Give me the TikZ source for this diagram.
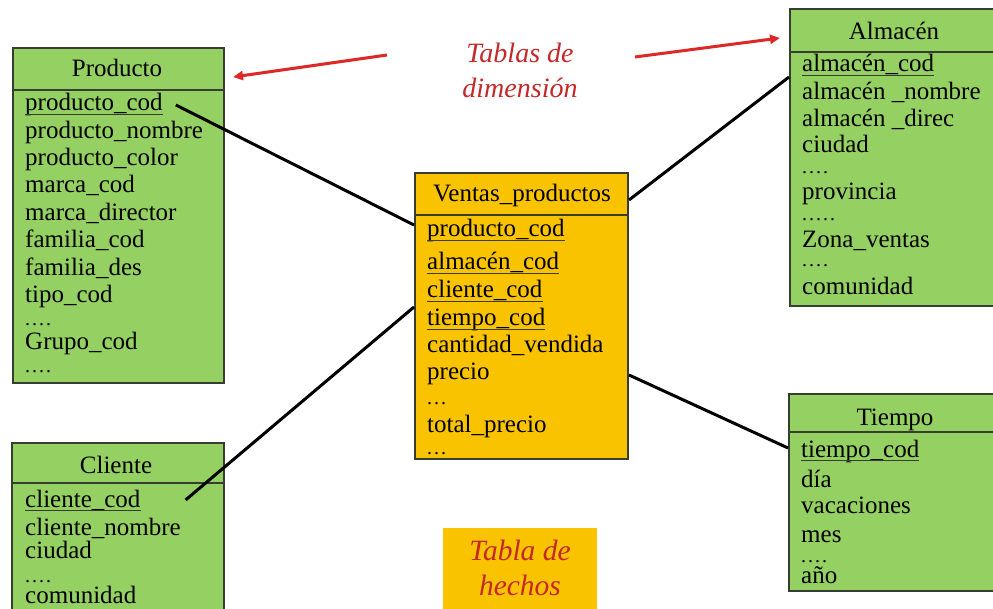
\documentclass[tikz,border=0pt]{standalone}
\usepackage{fontspec}
\setmainfont{Liberation Serif}
\usetikzlibrary{arrows.meta}
\definecolor{dimgreen}{RGB}{148,208,98}
\definecolor{facty}{RGB}{250,195,0}
\definecolor{edgecol}{RGB}{55,62,48}
\definecolor{redtxt}{RGB}{196,40,40}
\definecolor{redarr}{RGB}{222,40,40}
\newcommand{\fourdots}{.\kern2pt.\kern2pt.\kern2pt.}
\newcommand{\fivedots}{.\kern2pt.\kern2pt.\kern2pt.\kern2pt.}
\newcommand{\threedots}{.\kern2pt.\kern2pt.}
\begin{document}
\begin{tikzpicture}[x=1pt,y=-1pt,
  box/.style={draw=edgecol, line width=2pt, anchor=north west, inner sep=0pt},
  dimbox/.style={box, fill=dimgreen},
  factbox/.style={box, fill=facty},
  hdr/.style={draw=edgecol, line width=2pt},
  fld/.style={anchor=base west, inner sep=0pt, font=\fontsize{25}{27}\selectfont},
  dotfld/.style={anchor=base west, inner sep=0pt, font=\fontsize{20}{22}\selectfont},
  ttl/.style={anchor=base, inner sep=0pt, font=\fontsize{25}{27}\selectfont},
  ul/.style={draw=edgecol, line width=1.2pt},
  conn/.style={line width=3pt, black},
  redarrow/.style={line width=3pt, redarr, -{Triangle[length=10pt,width=9pt]}},
  note/.style={anchor=base, inner sep=0pt, text=redtxt, font=\fontsize{28}{34}\selectfont\itshape}
]
\useasboundingbox (0,0) rectangle (993,609);
\clip (0,0) rectangle (993,609);
\fill[white] (0,0) rectangle (993,609);

% ---------- Producto ----------
\node[dimbox, minimum width=211pt, minimum height=335pt] (producto) at (12,47) {};
\draw[hdr] ([yshift=-43pt]producto.north west) -- ([yshift=-43pt]producto.north east);
\node[ttl] (tprod) at (117,77) {Producto};
\node[fld] (pk1) at (25,111) {producto\_cod};
\node[fld] (p2) at (25,138.5) {producto\_nombre};
\node[fld] (p3) at (25,166) {producto\_color};
\node[fld] (p4) at (25,193) {marca\_cod};
\node[fld] (p5) at (25,220.5) {marca\_director};
\node[fld] (p6) at (25,248) {familia\_cod};
\node[fld] (p7) at (25,275.5) {familia\_des};
\node[fld] (p8) at (25,303) {tipo\_cod};
\node[dotfld] (p9) at (25,326) {\fourdots};
\node[fld] (p10) at (25,350) {Grupo\_cod};
\node[dotfld] (p11) at (25,373) {\fourdots};
\draw[ul] ([yshift=-3.5pt]pk1.base west) -- ([yshift=-3.5pt]pk1.base east);

% ---------- Almacen ----------
\node[dimbox, minimum width=216pt, minimum height=297pt] (almacen) at (789,8) {};
\draw[hdr] ([yshift=-44pt]almacen.north west) -- ([yshift=-44pt]almacen.north east);
\node[ttl] (talm) at (894,40) {Almacén};
\node[fld] (ak) at (802,72) {almacén\_cod};
\node[fld] (a2) at (802,100) {almacén \_nombre};
\node[fld] (a3) at (802,127) {almacén \_direc};
\node[fld] (a4) at (802,153) {ciudad};
\node[dotfld] (a5) at (802,174) {\fourdots};
\node[fld] (a6) at (802,200) {provincia};
\node[dotfld] (a7) at (802,221) {\fivedots};
\node[fld] (a8) at (802,248) {Zona\_ventas};
\node[dotfld] (a9) at (802,267) {\fourdots};
\node[fld] (a10) at (802,295) {comunidad};
\draw[ul] ([yshift=-3.5pt]ak.base west) -- ([yshift=-3.5pt]ak.base east);

% ---------- Ventas_productos ----------
\node[factbox, minimum width=213pt, minimum height=286pt] (ventas) at (414,172) {};
\draw[hdr] ([yshift=-43pt]ventas.north west) -- ([yshift=-43pt]ventas.north east);
\node[ttl] (tven) at (522,202) {Ventas\_productos};
\node[fld] (vk1) at (427,237) {producto\_cod};
\node[fld] (vk2) at (427,270) {almacén\_cod};
\node[fld] (vk3) at (427,298) {cliente\_cod};
\node[fld] (vk4) at (427,326) {tiempo\_cod};
\node[fld] (v5) at (427,353) {cantidad\_vendida};
\node[fld] (v6) at (427,380) {precio};
\node[dotfld] (v7) at (427,404) {\threedots};
\node[fld] (v8) at (427,432) {total\_precio};
\node[dotfld] (v9) at (427,454) {\threedots};
\foreach \k in {vk1,vk2,vk3,vk4}
  \draw[ul] ([yshift=-3.5pt]\k.base west) -- ([yshift=-3.5pt]\k.base east);

% ---------- Cliente ----------
\node[dimbox, minimum width=212pt, minimum height=190pt] (cliente) at (11,442) {};
\draw[hdr] ([yshift=-41pt]cliente.north west) -- ([yshift=-41pt]cliente.north east);
\node[ttl] (tcli) at (116,473) {Cliente};
\node[fld] (ck) at (25,507) {cliente\_cod};
\node[fld] (c2) at (25,535) {cliente\_nombre};
\node[fld] (c3) at (25,558) {ciudad};
\node[dotfld] (c4) at (25,582) {\fourdots};
\node[fld] (c5) at (25,603) {comunidad};
\draw[ul] ([yshift=-3.5pt]ck.base west) -- ([yshift=-3.5pt]ck.base east);

% ---------- Tiempo ----------
\node[dimbox, minimum width=217pt, minimum height=197pt] (tiempo) at (788,393) {};
\draw[hdr] ([yshift=-39pt]tiempo.north west) -- ([yshift=-39pt]tiempo.north east);
\node[ttl] (ttie) at (895,425) {Tiempo};
\node[fld] (tk) at (801,457) {tiempo\_cod};
\node[fld] (t2) at (801,487) {día};
\node[fld] (t3) at (801,513) {vacaciones};
\node[fld] (t4) at (801,542) {mes};
\node[dotfld] (t5) at (801,562) {\fourdots};
\node[fld] (t6) at (801,583) {año};
\draw[ul] ([yshift=-3.5pt]tk.base west) -- ([yshift=-3.5pt]tk.base east);

% ---------- Connectors ----------
\draw[conn] ([xshift=13pt]pk1.east) -- ([yshift=-53pt]ventas.north west);
\draw[conn] ([yshift=-69pt]almacen.north west) -- ([yshift=-28pt]ventas.north east);
\draw[conn] ([xshift=45pt]ck.east) -- ([yshift=-135pt]ventas.north west);
\draw[conn] ([yshift=-55pt]tiempo.north west) -- ([yshift=-203pt]ventas.north east);

% ---------- Notes ----------
\node[note] (nd1) at (520,63) {Tablas de};
\node[note] (nd2) at (520,98) {dimensión};
\coordinate (la) at (387,55);
\coordinate (lt) at (233,77);
\coordinate (ra) at (635,57);
\coordinate (rt) at (780,38);
\draw[redarrow] (la) -- (lt);
\draw[redarrow] (ra) -- (rt);

\node[fill=facty, anchor=north west, minimum width=154pt, minimum height=95pt, inner sep=0pt] (hechos) at (443,528) {};
\node[note, font=\fontsize{29.5}{34}\selectfont\itshape] (nh1) at (520,560) {Tabla de};
\node[note, font=\fontsize{29.5}{34}\selectfont\itshape] (nh2) at (520,595) {hechos};
\end{tikzpicture}
\end{document}
